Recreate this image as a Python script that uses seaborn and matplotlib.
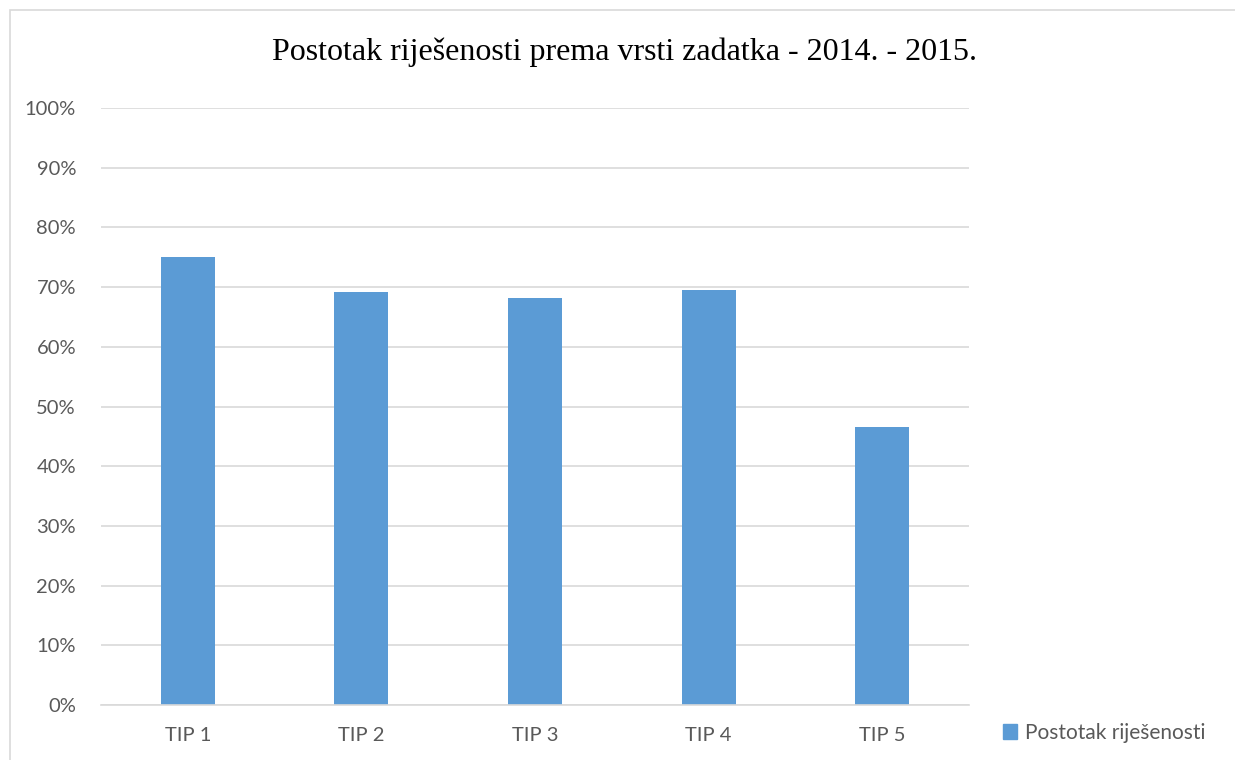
import matplotlib
matplotlib.use("Agg")
import matplotlib.pyplot as plt
import matplotlib.patches as mpatches
from matplotlib.ticker import PercentFormatter
import seaborn as sns
import pandas as pd

categories = ["TIP 1", "TIP 2", "TIP 3", "TIP 4", "TIP 5"]
values = [0.751, 0.691, 0.682, 0.695, 0.465]
series_name = "Postotak riješenosti"
title = "Postotak riješenosti prema vrsti zadatka - 2014. - 2015."

sns.set_theme(style="white")
plt.rcParams['font.family'] = ['Lato', 'DejaVu Sans']

df = pd.DataFrame({"cat": categories, "val": values})

fig = plt.figure(figsize=(12.35, 7.6), dpi=100)
ax = fig.add_axes([101/1235, 1-705/760, 868/1235, (705-108)/760])

sns.barplot(data=df, x="cat", y="val", color="#5B9BD5", width=0.31,
            saturation=1, ax=ax, edgecolor="none")

ax.set_ylim(0, 1)
ax.set_yticks([i/10 for i in range(11)])
ax.yaxis.set_major_formatter(PercentFormatter(1.0, decimals=0))
ax.grid(axis="y", color="#D9D9D9", linewidth=1.2)
ax.set_axisbelow(True)
for s in ["top", "right", "left"]:
    ax.spines[s].set_visible(False)
ax.spines["bottom"].set_color("#D9D9D9")
ax.spines["bottom"].set_linewidth(1.2)
ax.tick_params(axis="both", length=0, labelsize=14.5, colors="#595959")
ax.tick_params(axis="x", pad=16)
ax.tick_params(axis="y", pad=18)
ax.set_xlabel("")
ax.set_ylabel("")

fig.text(625/1235, 1-52/760, title, ha="center", va="center", fontsize=23,
         family=["Liberation Serif", "DejaVu Serif"], color="#000000")

handle = mpatches.Patch(color="#5B9BD5", label=series_name)
fig.legend(handles=[handle], loc="center left", bbox_to_anchor=(984/1235, 1-733/760),
           frameon=False, fontsize=15, handlelength=0.7, handleheight=0.7,
           handletextpad=0.35, labelcolor="#595959")

fig.patches.append(mpatches.Rectangle((10/1235, -0.01), 1.1, 1-10/760 + 0.01,
                   transform=fig.transFigure, fill=False, edgecolor="#D9D9D9",
                   linewidth=1.2))

fig.savefig("out.png", dpi=100, facecolor="white")
